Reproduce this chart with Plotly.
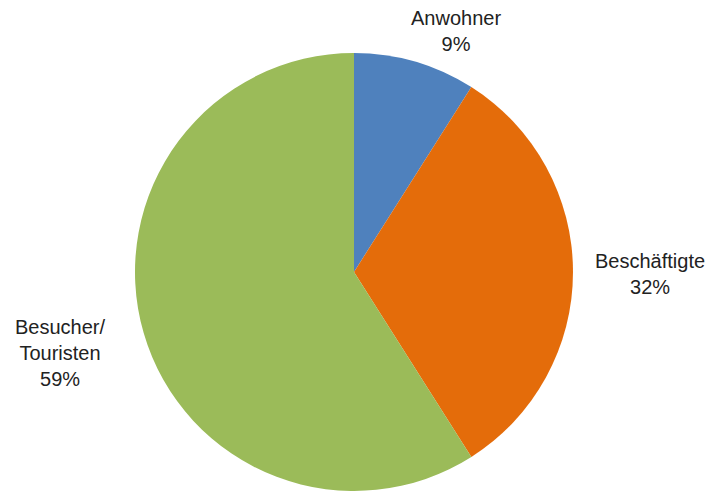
import plotly.graph_objects as go

labels = ["Anwohner", "Beschäftigte", "Besucher/<br>Touristen"]
values = [9, 32, 59]
colors = ["#4F81BD", "#E46C0A", "#9BBB59"]

# label anchor positions (paper coords)
label_pos = [(0.645, 0.937), (0.919, 0.442), (0.085, 0.281)]

fig = go.Figure(go.Pie(
    labels=labels, values=values, sort=False, direction="clockwise",
    rotation=0, marker=dict(colors=colors, line=dict(width=0)),
    textinfo="none", hoverinfo="label+percent",
    domain=dict(x=[(354 - 219) / 707, (354 + 219) / 707], y=[0, 438 / 491]),
    showlegend=False,
))

total = sum(values)
for lab, v, (x, y) in zip(labels, values, label_pos):
    fig.add_annotation(
        x=x, y=y, xref="paper", yref="paper", showarrow=False,
        text=f"{lab}<br>{round(100 * v / total)}%",
        font=dict(family="Liberation Sans, Arial, sans-serif", size=20, color="#222222"),
        align="center", xanchor="center", yanchor="middle",
    )

fig.update_layout(
    width=707, height=491, margin=dict(l=0, r=0, t=0, b=0),
    paper_bgcolor="white", plot_bgcolor="white",
)
fig.write_html(
    "out.html",
    config={"displayModeBar": False},
    post_script="document.body.style.margin='0';document.body.style.overflow='hidden';",
)
